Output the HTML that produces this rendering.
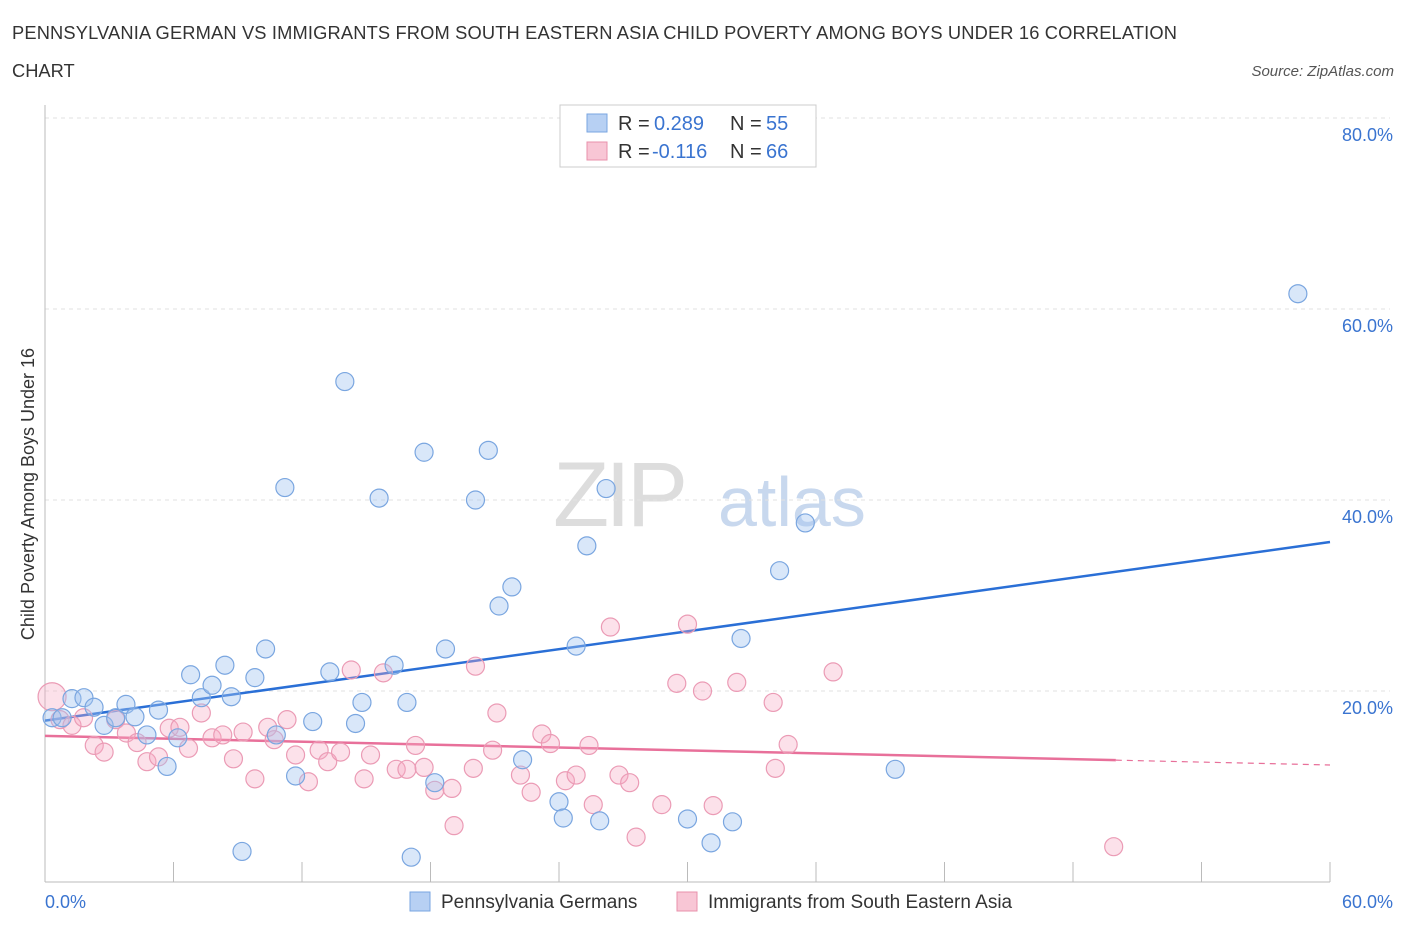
<!DOCTYPE html>
<html><head><meta charset="utf-8"><style>
body{margin:0;background:#fff;font-family:"Liberation Sans",sans-serif;}
svg text{font-family:"Liberation Sans",sans-serif;}
</style></head><body>
<svg id="chart" width="1406" height="930" xmlns="http://www.w3.org/2000/svg">
<text x="12" y="39" font-size="18.3" fill="#333" textLength="1165">PENNSYLVANIA GERMAN VS IMMIGRANTS FROM SOUTH EASTERN ASIA CHILD POVERTY AMONG BOYS UNDER 16 CORRELATION</text>
<text x="12" y="77" font-size="18.3" fill="#333">CHART</text>
<text x="1394" y="76" font-size="15" fill="#555" text-anchor="end" font-style="italic">Source: ZipAtlas.com</text>
<text transform="translate(34,494) rotate(-90)" font-size="18" fill="#333" text-anchor="middle">Child Poverty Among Boys Under 16</text>
<text x="553" y="526" font-size="92" fill="#ddd" font-family="Liberation Serif" letter-spacing="-4">ZIP</text>
<text x="718" y="526" font-size="70" fill="#c8d8ee">atlas</text>
<g id="grid"></g><g id="axes"></g><g id="lines"></g><g id="pts"></g>
<g>
<rect x="560" y="105" width="256" height="62" fill="#fff" stroke="#ccc"/>
<rect x="587" y="114" width="20" height="18" fill="#b7d0f3" stroke="#7aa6e0"/>
<rect x="587" y="142" width="20" height="18" fill="#f8c6d5" stroke="#e890ab"/>
<text x="618" y="130" font-size="20" fill="#333">R =</text><text x="654" y="130" font-size="20" fill="#3a74d0">0.289</text>
<text x="730" y="130" font-size="20" fill="#333">N =</text><text x="766" y="130" font-size="20" fill="#3a74d0">55</text>
<text x="618" y="158" font-size="20" fill="#333">R =</text><text x="652" y="158" font-size="20" fill="#3a74d0">-0.116</text>
<text x="730" y="158" font-size="20" fill="#333">N =</text><text x="766" y="158" font-size="20" fill="#3a74d0">66</text>
</g>
<g>
<rect x="410" y="892" width="20" height="19" fill="#b7d0f3" stroke="#7aa6e0"/>
<text x="441" y="908" font-size="19" fill="#333">Pennsylvania Germans</text>
<rect x="677" y="892" width="20" height="19" fill="#f8c6d5" stroke="#e890ab"/>
<text x="708" y="908" font-size="19" fill="#333">Immigrants from South Eastern Asia</text>
</g>
</svg>
<script>
const blueX=[0.33,0.8,1.26,1.82,2.29,2.76,3.3,3.78,4.2,4.76,5.3,5.7,6.2,6.8,7.3,7.8,8.4,8.7,9.2,9.8,10.3,10.8,11.2,11.7,12.5,13.3,14.0,14.5,14.8,15.6,16.3,16.9,17.1,17.7,18.2,18.7,20.1,20.7,21.2,21.8,22.3,24.0,24.2,24.8,25.3,25.9,26.2,30.0,31.1,32.1,32.5,34.3,35.5,39.7,58.5];
const blueY=[17.2,17.2,19.2,19.3,18.3,16.4,17.2,18.6,17.3,15.4,18.0,12.1,15.1,21.7,19.3,20.6,22.7,19.4,3.2,21.4,24.4,15.4,41.3,11.1,16.8,22.0,52.4,16.6,18.8,40.2,22.7,18.8,2.6,45.0,10.4,24.4,40.0,45.2,28.9,30.9,12.8,8.4,6.7,24.7,35.2,6.4,41.2,6.6,4.1,6.3,25.5,32.6,37.6,11.8,61.6];
const pinkX=[0.33,0.7,1.26,1.8,2.3,2.76,3.3,3.8,4.3,4.76,5.3,5.8,6.3,6.7,7.3,7.8,8.3,8.8,9.25,9.8,10.4,10.7,11.3,11.7,12.3,12.8,13.2,13.8,14.3,14.9,15.2,15.8,16.4,16.9,17.3,17.7,18.2,19.0,19.1,20.0,20.1,20.9,21.1,22.2,22.7,23.2,23.6,24.3,24.8,25.4,25.6,26.4,26.8,27.3,27.6,28.8,29.5,30.0,30.7,31.2,32.3,34.0,34.1,34.7,36.8,49.9];
const pinkY=[19.4,17.0,16.4,17.2,14.3,13.6,17.0,15.6,14.6,12.6,13.1,16.1,16.2,14.0,17.7,15.1,15.4,12.9,15.7,10.8,16.2,14.9,17.0,13.3,10.5,13.8,12.6,13.6,22.2,10.8,13.3,21.9,11.8,11.8,14.3,12.0,9.6,9.8,5.9,11.9,22.6,13.8,17.7,11.2,9.4,15.5,14.5,10.6,11.2,14.3,8.1,26.7,11.2,10.4,4.7,8.1,20.8,27.0,20.0,8.0,20.9,18.8,11.9,14.4,22.0,3.7];
const blueTrend=[16.9,35.6];
const pinkTrend=[15.3,12.25];
const pinkSolidEnd=50;
const yTicks=[20,40,60,80];
const xTickLabels=["0.0%","60.0%"];
const NS="http://www.w3.org/2000/svg";
const sx=v=>45+v/60*1285, sy=v=>882-v/20*191;
function mk(t,a,p){const e=document.createElementNS(NS,t);for(const k in a)e.setAttribute(k,a[k]);p.appendChild(e);return e;}
const grid=document.getElementById('grid'),axes=document.getElementById('axes'),lines=document.getElementById('lines'),pts=document.getElementById('pts');
yTicks.forEach(t=>{
 const l=mk('line',{x1:45,y1:sy(t),x2:1390,y2:sy(t),stroke:'#e2e2e2','stroke-dasharray':'4,4'},grid);
 
 
 const tx=mk('text',{x:1393,y:sy(t)+23,'font-size':18,fill:'#3a74d0','text-anchor':'end'},axes);
 tx.textContent=t.toFixed(1)+'%';
 
 
});
mk('line',{x1:45,y1:105,x2:45,y2:882,stroke:'#bbb'},axes);
mk('line',{x1:45,y1:882,x2:1330,y2:882,stroke:'#bbb'},axes);
for(let i=1;i<=10;i++){const t=mk('line',{x1:sx(i*6),y1:862,x2:sx(i*6),y2:882,stroke:'#bbb'},axes);
 
 }
let a=mk('text',{x:45,y:908,'font-size':18,fill:'#3a74d0'},axes);a.textContent=xTickLabels[0];


a=mk('text',{x:1393,y:908,'font-size':18,fill:'#3a74d0','text-anchor':'end'},axes);a.textContent=xTickLabels[1];


const pf=x=>pinkTrend[0]+(pinkTrend[1]-pinkTrend[0])*x/60;
let l=mk('line',{x1:sx(0),y1:sy(blueTrend[0]),x2:sx(60),y2:sy(blueTrend[1]),stroke:'#2a6fd6','stroke-width':2.5},lines);


l=mk('line',{x1:sx(0),y1:sy(pf(0)),x2:sx(pinkSolidEnd),y2:sy(pf(pinkSolidEnd)),stroke:'#e8709a','stroke-width':2.5},lines);


l=mk('line',{x1:sx(pinkSolidEnd),y1:sy(pf(pinkSolidEnd)),x2:sx(60),y2:sy(pf(60)),stroke:'#e8709a','stroke-width':1.2,'stroke-dasharray':'6,5'},lines);


pinkX.forEach((x,i)=>{const c=mk('circle',{cx:sx(x),cy:sy(pinkY[i]),r:i==0?14:9,fill:'rgba(246,170,195,0.35)',stroke:'#eb9bb5','stroke-width':1.2},pts);
 
 });
blueX.forEach((x,i)=>{const c=mk('circle',{cx:sx(x),cy:sy(blueY[i]),r:9,fill:'rgba(160,195,240,0.4)',stroke:'#7aa6e0','stroke-width':1.2},pts);
 
 });
</script>
</body></html>
